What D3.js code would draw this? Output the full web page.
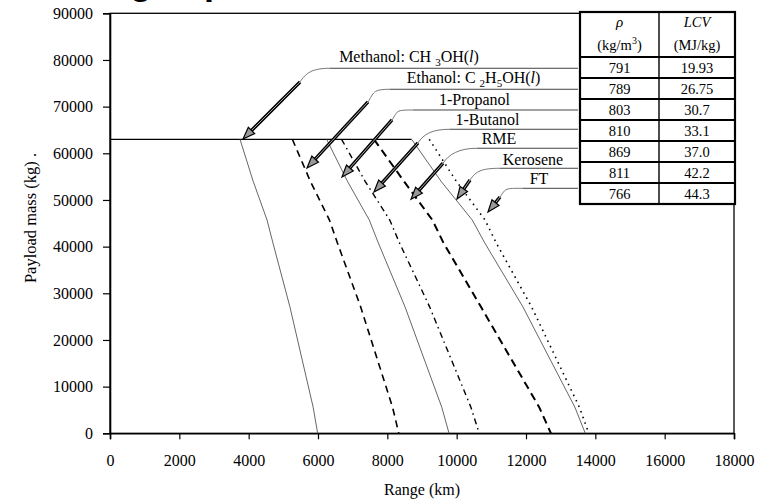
<!DOCTYPE html>
<html>
<head>
<meta charset="utf-8">
<script src="https://cdn.jsdelivr.net/npm/d3@7"></script>
<style>
body { margin: 0; background: #fff; }
svg { display: block; font-family: "Liberation Serif", "Times New Roman", serif; }
</style>
</head>
<body>
<div id="chart"></div>
<script>
// payload levels (kg) where the range of each fuel was read
var payload = [63000, 54000, 45700, 40800, 27100, 5600, 0];

// range (km) for each fuel at those payload levels
var methanol = [3750, 4130, 4530, 4700, 5190, 5860, 5990];
var ethanol  = [5260, 5780, 6330, 6560, 7230, 8150, 8330];
var propanol = [6250, 6850, 7480, 7740, 8510, 9570, 9780];
var butanol  = [6680, 7360, 8070, 8350, 9220, 10410, 10650];
var rme      = [7615, 8480, 9300, 9620, 10700, 12380, 12720];
var kerosene = [8700, 9550, 10450, 10810, 11910, 13410, 13710];
var ft       = [9210, 9990, 10820, 11140, 12160, 13540, 13810];

var maxPayload = 63000;
var maxPayloadEnd = 8700;

// fuel properties table
var density = [791, 789, 803, 810, 869, 811, 766];
var lcv = ["19.93", "26.75", "30.7", "33.1", "37.0", "42.2", "44.3"];

var xTicks = [0, 2000, 4000, 6000, 8000, 10000, 12000, 14000, 16000, 18000];
var yTicks = [0, 10000, 20000, 30000, 40000, 50000, 60000, 70000, 80000, 90000];

var width = 766, height = 500;
var margin = {top: 13.3, right: 32, bottom: 66.7, left: 110};

var svg = d3.select('#chart').append('svg')
  .attr('width', width)
  .attr('height', height);

var x = d3.scaleLinear().domain([0, 18000]).range([margin.left, width - margin.right]);
var y = d3.scaleLinear().domain([0, 90000]).range([height - margin.bottom, margin.top]);

/* title, mostly cut off by the top edge */
svg.append('text')
  .attr('x', 62).attr('y', -6)
  .style('font-family', '"Liberation Sans", Arial, sans-serif')
  .style('font-weight', 'bold')
  .style('font-size', '36px')
  .text('Range - performance');

/* frame */
svg.append('rect')
  .attr('x', x(0)).attr('y', y(90000))
  .attr('width', x(18000) - x(0)).attr('height', y(0) - y(90000))
  .style('fill', 'none').style('stroke', '#000').style('stroke-width', 1.3);

/* axes */
var yAxis = svg.append('g')
  .attr('transform', 'translate(' + x(0) + ',0)')
  .call(d3.axisLeft(y).tickValues(yTicks).tickSize(7).tickPadding(10).tickFormat(d3.format('d')));
var xAxis = svg.append('g')
  .attr('transform', 'translate(0,' + y(0) + ')')
  .call(d3.axisBottom(x).tickValues(xTicks).tickSize(6).tickPadding(15).tickFormat(d3.format('d')));

[xAxis, yAxis].forEach(function(a) {
  a.select('.domain').style('stroke-width', 1.6);
  a.selectAll('.tick line').style('stroke-width', 1.2);
  a.selectAll('text').style('font-family', '"Liberation Serif", serif').style('font-size', '16px').style('fill', '#000');
});

svg.append('text')
  .attr('x', x(9000)).attr('y', 495)
  .attr('text-anchor', 'middle')
  .style('font-size', '16px')
  .text('Range (km)');

svg.append('text')
  .attr('transform', 'translate(36,218) rotate(-90)')
  .attr('text-anchor', 'middle')
  .style('font-size', '16.5px')
  .text('Payload mass (kg) .');

/* max payload line */
svg.append('line')
  .attr('x1', x(0)).attr('x2', x(maxPayloadEnd))
  .attr('y1', y(maxPayload)).attr('y2', y(maxPayload))
  .style('stroke', '#000').style('stroke-width', 1.3);

/* curves */
var series = [
  {name: 'Methanol', values: methanol, color: '#555', w: 0.9, dash: null},
  {name: 'Ethanol', values: ethanol, color: '#000', w: 1.6, dash: '7,5'},
  {name: '1-Propanol', values: propanol, color: '#555', w: 0.9, dash: null},
  {name: '1-Butanol', values: butanol, color: '#000', w: 1.4, dash: '6,4,1.5,4'},
  {name: 'RME', values: rme, color: '#000', w: 2, dash: '8,5'},
  {name: 'Kerosene', values: kerosene, color: '#555', w: 0.9, dash: null},
  {name: 'FT', values: ft, color: '#000', w: 1.6, dash: '1.5,4.5'}
];

var line = d3.line()
  .x(function(d) { return x(d[0]); })
  .y(function(d) { return y(d[1]); });

svg.selectAll('.fuel-line')
  .data(series).enter()
  .append('path').attr('class', 'fuel-line')
  .attr('d', function(s) {
    return line(s.values.map(function(v, i) { return [v, payload[i]]; }));
  })
  .style('fill', 'none')
  .style('stroke', function(s) { return s.color; })
  .style('stroke-width', function(s) { return s.w; })
  .style('stroke-dasharray', function(s) { return s.dash; });

/* callouts: label, underline, leader curve, arrow (all in data units) */
var callouts = [
  {parts: [['Methanol: CH '], ['3', 'sub'], ['OH('], ['l', 'i'], [')']], tx: 8625, ty: 79570, ly: 78220, lx: 6346, ax: 5481, ay: 75290, px: 3837, py: 63070},
  {parts: [['Ethanol: C '], ['2', 'sub'], ['H'], ['5', 'sub'], ['OH('], ['l', 'i'], [')']], tx: 10486, ty: 75070, ly: 73720, lx: 8077, ax: 7442, ay: 71000, px: 5683, py: 56860},
  {parts: [['1-Propanol']], tx: 10515, ty: 70360, ly: 69280, lx: 8740, ax: 8135, ay: 67140, px: 6692, py: 54920},
  {parts: [['1-Butanol']], tx: 10889, ty: 66070, ly: 65150, lx: 9808, ax: 8885, ay: 62230, px: 7615, py: 51720},
  {parts: [['RME']], tx: 11221, ty: 62000, ly: 61080, lx: 10587, ax: 9606, ay: 57870, px: 8683, py: 50160},
  {parts: [['Kerosene']], tx: 12202, ty: 57500, ly: 56790, lx: 11250, ax: 10385, ay: 54290, px: 10010, py: 50220},
  {parts: [['FT']], tx: 12375, ty: 53430, ly: 52500, lx: 11913, ax: 11250, ay: 50630, px: 10904, py: 47420}
];
var lineEnd = 13500;

var co = svg.selectAll('.callout').data(callouts).enter().append('g').attr('class', 'callout');

co.append('line')
  .attr('x1', function(d) { return x(d.lx); })
  .attr('x2', x(lineEnd))
  .attr('y1', function(d) { return y(d.ly); })
  .attr('y2', function(d) { return y(d.ly); })
  .style('stroke', '#444').style('stroke-width', 1);

co.append('path')
  .attr('d', function(d) {
    var ux = x(d.lx), uy = y(d.ly), ax = x(d.ax), ay = y(d.ay);
    return 'M' + ux + ',' + uy + ' C' + (ux - 18) + ',' + uy + ' ' + (ax + 6) + ',' + (ay - 9) + ' ' + ax + ',' + ay;
  })
  .style('fill', 'none').style('stroke', '#555').style('stroke-width', 0.8);

co.each(function(d) {
  var g = d3.select(this);
  var x1 = x(d.ax), y1 = y(d.ay), x2 = x(d.px), y2 = y(d.py);
  var ang = Math.atan2(y2 - y1, x2 - x1);
  var hl = 12, hw = 4.5;
  var bx = x2 - hl * Math.cos(ang), by = y2 - hl * Math.sin(ang);
  g.append('line').attr('x1', x1).attr('y1', y1).attr('x2', bx).attr('y2', by)
    .style('stroke', '#000').style('stroke-width', 3.4);
  g.append('line').attr('x1', x1).attr('y1', y1).attr('x2', bx).attr('y2', by)
    .style('stroke', '#aaa').style('stroke-width', 1);
  var p1 = [bx + hw * Math.sin(ang), by - hw * Math.cos(ang)];
  var p2 = [bx - hw * Math.sin(ang), by + hw * Math.cos(ang)];
  g.append('path')
    .attr('d', 'M' + x2 + ',' + y2 + 'L' + p1 + 'L' + p2 + 'Z')
    .style('fill', '#999').style('stroke', '#000').style('stroke-width', 1.2);
});

co.append('text')
  .attr('x', function(d) { return x(d.tx); })
  .attr('y', function(d) { return y(d.ty); })
  .attr('text-anchor', 'middle')
  .style('font-size', '16px')
  .each(function(d) {
    var t = d3.select(this);
    var prevSub = false;
    d.parts.forEach(function(p) {
      var s = t.append('tspan').text(p[0]);
      if (p[1] === 'sub') { s.attr('dy', 4).style('font-size', '11px'); }
      else if (prevSub) { s.attr('dy', -4); }
      if (p[1] === 'i') s.style('font-style', 'italic');
      prevSub = p[1] === 'sub';
    });
  });

/* table */
var tx0 = 580, tx1 = 659, tx2 = 735, tTop = 12, tHead = 57, rowH = 21;
var tb = svg.append('g');
tb.append('rect')
  .attr('x', tx0).attr('y', tTop)
  .attr('width', tx2 - tx0).attr('height', tHead - tTop + rowH * density.length)
  .style('fill', '#fff').style('stroke', '#000').style('stroke-width', 2.2);
tb.selectAll('.row-line')
  .data(density).enter()
  .append('line').attr('class', 'row-line')
  .attr('x1', tx0).attr('x2', tx2)
  .attr('y1', function(d, i) { return tHead + i * rowH; })
  .attr('y2', function(d, i) { return tHead + i * rowH; })
  .style('stroke', '#000').style('stroke-width', 1.8);
tb.append('line')
  .attr('x1', tx1).attr('x2', tx1)
  .attr('y1', tTop).attr('y2', tHead + rowH * density.length)
  .style('stroke', '#000').style('stroke-width', 1.4);

tb.append('text').attr('x', (tx0 + tx1) / 2).attr('y', 27).attr('text-anchor', 'middle')
  .style('font-size', '15px').style('font-style', 'italic').text('ρ');
var h1 = tb.append('text').attr('x', (tx0 + tx1) / 2).attr('y', 50).attr('text-anchor', 'middle')
  .style('font-size', '14.5px');
h1.append('tspan').text('(kg/m');
h1.append('tspan').attr('dy', -6).style('font-size', '10px').text('3');
h1.append('tspan').attr('dy', 6).text(')');
tb.append('text').attr('x', (tx1 + tx2) / 2).attr('y', 27).attr('text-anchor', 'middle')
  .style('font-size', '14.5px').style('font-style', 'italic').text('LCV');
tb.append('text').attr('x', (tx1 + tx2) / 2).attr('y', 50).attr('text-anchor', 'middle')
  .style('font-size', '14.5px').text('(MJ/kg)');

tb.selectAll('.dens')
  .data(density).enter()
  .append('text').attr('class', 'dens')
  .attr('x', (tx0 + tx1) / 2)
  .attr('y', function(d, i) { return tHead + i * rowH + 15.5; })
  .attr('text-anchor', 'middle')
  .style('font-size', '14.5px')
  .text(function(d) { return d; });
tb.selectAll('.lcv')
  .data(lcv).enter()
  .append('text').attr('class', 'lcv')
  .attr('x', (tx1 + tx2) / 2)
  .attr('y', function(d, i) { return tHead + i * rowH + 15.5; })
  .attr('text-anchor', 'middle')
  .style('font-size', '14.5px')
  .text(function(d) { return d; });
</script>
</body>
</html>
